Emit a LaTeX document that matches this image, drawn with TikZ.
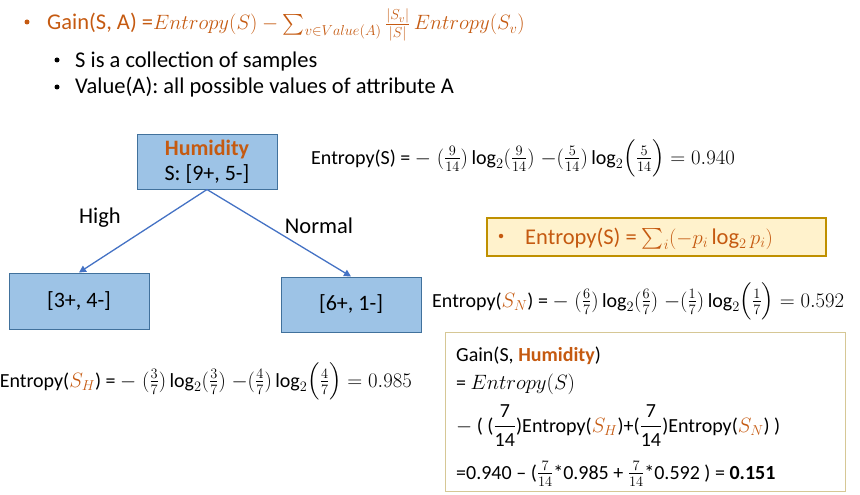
\documentclass[tikz,border=0pt]{standalone}
\usepackage{amsmath}
\usepackage{fontspec}
\setmainfont{Carlito}
\usetikzlibrary{arrows.meta}
\definecolor{orng}{HTML}{C55A11}
\definecolor{boxfill}{HTML}{9DC3E6}
\definecolor{boxline}{HTML}{41719C}
\definecolor{arr}{HTML}{4472C4}
\definecolor{yfill}{HTML}{FFF2CC}
\definecolor{yline}{HTML}{BF9000}
\definecolor{gline}{HTML}{D6C795}
\tikzset{
  big/.style={font=\fontsize{22.5}{26}\selectfont, inner sep=0pt},
  mid/.style={font=\fontsize{20}{24}\selectfont, inner sep=0pt},
  treebox/.style={draw=boxline, fill=boxfill, line width=1pt, minimum width=140pt, inner sep=0pt, font=\fontsize{22}{26}\selectfont},
  conn/.style={draw=arr, line width=1.3pt, -{Triangle[length=7pt,width=7pt]}},
  dot/.style={circle, fill, inner sep=0pt, minimum size=5pt}
}
\begin{document}
\begin{tikzpicture}[x=1pt,y=-1pt]
\useasboundingbox (0,0) rectangle (860,495);
% top bullets
\node[dot, fill=orng] (b1) at (27,22) {};
\node[big, anchor=base west, text=orng] (g1) at (47,30) {Gain(S, A) =$Entropy(S) - \sum_{v\in Value(A)}\frac{|S_v|}{|S|}\,Entropy(S_v)$};
\node[dot, fill=black] (b2) at (57,60) {};
\node[big, anchor=base west] (t2) at (75,67) {S is a collection of samples};
\node[dot, fill=black] (b3) at (57,87) {};
\node[big, anchor=base west] (t3) at (75,94) {Value(A): all possible values of attribute A};
% tree
\node[treebox, minimum height=55pt, align=center] (root) at (207,161.5) {\textcolor{orng}{\textbf{Humidity}}\\[-1pt]S: [9+, 5-]};
\node[treebox, minimum height=56pt] (left) at (79,301) {[3+, 4-]};
\node[treebox, minimum height=55pt] (right) at (351,304.5) {[6+, 1-]};
\draw[conn] (root.south) -- (left.north);
\draw[conn] (root.south) -- (right.north);
\node[big] (high) at (100,218) {High};
\node[big] (normal) at (319,226) {Normal};
% entropy formulas
\node[mid, anchor=base west] (es) at (311,164) {Entropy(S) = $-\;(\tfrac{9}{14})\log_2(\tfrac{9}{14})\;{-}(\tfrac{5}{14})\log_2\Bigl(\tfrac{5}{14}\Bigr)=0.940$};
\node[mid, anchor=base west] (esn) at (432,307) {Entropy($\textcolor{orng}{S_N}$) = $-\;(\tfrac{6}{7})\log_2(\tfrac{6}{7})\;{-}(\tfrac{1}{7})\log_2\Bigl(\tfrac{1}{7}\Bigr)=0.592$};
\node[mid, anchor=base east] (esh) at (412,387) {Entropy($\textcolor{orng}{S_H}$) = $-\;(\tfrac{3}{7})\log_2(\tfrac{3}{7})\;{-}(\tfrac{4}{7})\log_2\Bigl(\tfrac{4}{7}\Bigr)=0.985$};
% yellow box
\draw[draw=yline, fill=yfill, line width=2pt] (487,218) rectangle (826,256);
\node[dot, fill=orng, minimum size=4.5pt] (yb) at (501,236) {};
\node[big, anchor=base west, text=orng] (ye) at (525,244) {Entropy(S) = $\sum_i(-p_i\log_2 p_i)$};
% gain box
\draw[draw=gline, line width=1pt] (445,332) rectangle (845,491);
\node[mid, anchor=base west] (l1) at (456,361) {Gain(S, \textcolor{orng}{\textbf{Humidity}})};
\node[mid, anchor=base west] (l2) at (456,389) {= $Entropy(S)$};
\node[mid, anchor=base west] (l3) at (456,432) {$-$ ( ($\dfrac{\text{7}}{\text{14}}$)Entropy($\textcolor{orng}{S_H}$)+($\dfrac{\text{7}}{\text{14}}$)Entropy($\textcolor{orng}{S_N}$) )};
\node[mid, anchor=base west] (l4) at (456,479) {=0.940 – ($\frac{7}{14}$*0.985 + $\frac{7}{14}$*0.592 ) = \textbf{0.151}};
\end{tikzpicture}
\end{document}
